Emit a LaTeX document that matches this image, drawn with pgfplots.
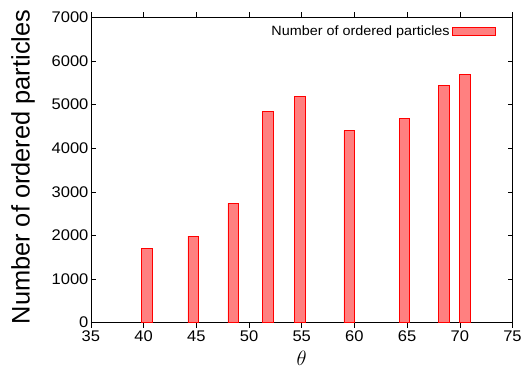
\documentclass[border=0pt]{standalone}
\usepackage{pgfplots}
\pgfplotsset{compat=1.18}
\usepackage{fontspec}
\setmainfont{Liberation Sans}[FakeStretch=1.07]
\newfontfamily\plain{Liberation Sans}
\definecolor{barfill}{HTML}{FF8080}
\begin{document}
\begin{tikzpicture}
\begin{axis}[
  scale only axis,
  width=422bp, height=305.5bp,
  xmin=35, xmax=75, ymin=0, ymax=7000,
  xtick={35,40,...,75}, ytick={0,1000,...,7000},
  scaled y ticks=false,
  tick align=inside,
  tick style={black, line width=0.6pt},
  major tick length=5bp,
  axis line style={black, line width=0.8pt},
  /pgf/number format/assume math mode=true,
  /pgf/number format/set thousands separator={},
  tick label style={font=\fontsize{15.5}{17}\selectfont},
  yticklabel style={xshift=1bp},
  xticklabel style={yshift=0bp},
  ylabel={Number of ordered particles},
  ylabel style={font=\plain\fontsize{25.5}{28}\selectfont, at={([xshift=-68bp]axis description cs:0,0.51)}, anchor=center},
  xlabel={$\theta$},
  xlabel style={font=\fontsize{22}{24}\selectfont, at={([yshift=-36bp]axis description cs:0.5,0)}, anchor=center},
  ybar, bar width=1,
  legend style={draw=none, fill=none, inner sep=0pt, at={(0.9597,0.9535)}, anchor=east,
    font=\fontsize{13.5}{15}\selectfont, legend cell align=right,
    /tikz/every even column/.append style={column sep=4bp}},
  legend plot pos=right,
  legend image code/.code={\draw[#1] (0bp,-4bp) rectangle (43bp,4bp);},
]
\addplot[draw=red, fill=barfill, line width=0.7pt] coordinates {
(40.3,1710) (44.7,1985) (48.5,2735) (51.8,4850) (54.8,5180)
(59.5,4405) (64.75,4675) (68.5,5445) (70.5,5690)};
\addlegendentry{Number of ordered particles}
\end{axis}
\useasboundingbox ([xshift=-91bp,yshift=-44bp]current axis.south west) rectangle ([xshift=12bp,yshift=17.5bp]current axis.north east);
\end{tikzpicture}
\end{document}
